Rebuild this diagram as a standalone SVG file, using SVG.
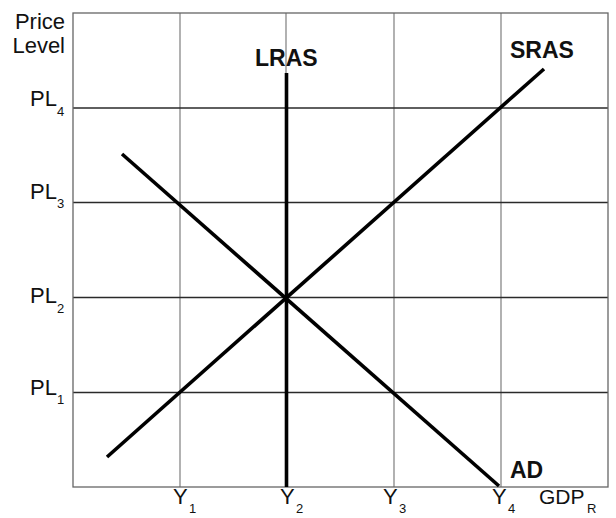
<svg xmlns="http://www.w3.org/2000/svg" width="616" height="518" viewBox="0 0 616 518">
<style>
.t{font-family:"Liberation Sans",Arial,sans-serif;font-size:22px;fill:#111}
.s{font-family:"Liberation Sans",Arial,sans-serif;font-size:13px;fill:#111}
.b{font-family:"Liberation Sans",Arial,sans-serif;font-size:23px;font-weight:bold;fill:#111}
.v{stroke:#888;stroke-width:1.3;fill:none}
.h{stroke:#2a2a2a;stroke-width:1.3;fill:none}
.c{stroke:#000;stroke-width:3.6;fill:none}
</style>
<rect width="616" height="518" fill="#fff"/>
<g id="grid">
<line class="v" x1="180" y1="13" x2="180" y2="487"/>
<line class="v" x1="286" y1="13" x2="286" y2="487"/>
<line class="v" x1="394" y1="13" x2="394" y2="487"/>
<line class="v" x1="501" y1="13" x2="501" y2="487"/>
<line class="h" x1="73" y1="108" x2="608" y2="108"/>
<line class="h" x1="73" y1="202.5" x2="608" y2="202.5"/>
<line class="h" x1="73" y1="297.5" x2="608" y2="297.5"/>
<line class="h" x1="73" y1="392.5" x2="608" y2="392.5"/>
<rect x="73" y="13" width="535" height="474" fill="none" stroke="#666" stroke-width="1.3"/>
</g>
<g id="curves">
<line id="LRAS" class="c" x1="286.5" y1="73" x2="286.5" y2="487"/>
<line id="SRAS" class="c" x1="107" y1="457" x2="544" y2="69"/>
<line id="AD" class="c" x1="122" y1="154" x2="499" y2="486"/>
</g>
<g id="labels">
<text class="t" x="65" y="29" text-anchor="end">Price</text>
<text class="t" x="65" y="53" text-anchor="end">Level</text>
<text class="t" x="30" y="106">PL</text><text class="s" x="57" y="116">4</text>
<text class="t" x="30" y="198.5">PL</text><text class="s" x="57" y="208">3</text>
<text class="t" x="30" y="303">PL</text><text class="s" x="57" y="313">2</text>
<text class="t" x="30" y="395">PL</text><text class="s" x="57" y="404">1</text>
<text class="t" x="173" y="504">Y</text><text class="s" x="189" y="513">1</text>
<text class="t" x="280" y="504">Y</text><text class="s" x="296" y="513">2</text>
<text class="t" x="383" y="504">Y</text><text class="s" x="399" y="513">3</text>
<text class="t" x="492" y="504">Y</text><text class="s" x="508" y="513">4</text>
<text class="t" x="539" y="504" style="font-size:21px">GDP</text><text class="s" x="587" y="513">R</text>
<text class="b" x="255" y="66">LRAS</text>
<text class="b" x="510" y="58">SRAS</text>
<text class="b" x="510" y="478">AD</text>
</g>
</svg>
